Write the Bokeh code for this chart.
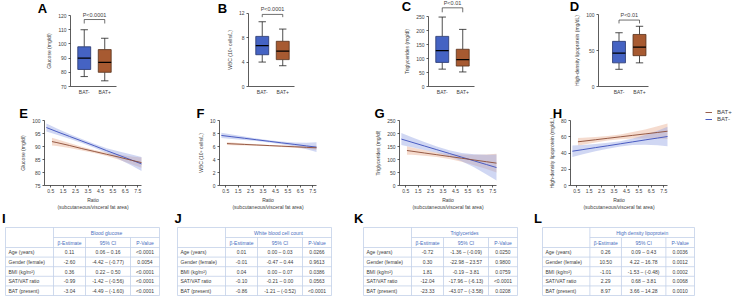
from bokeh.plotting import figure
from bokeh.layouts import column, row
from bokeh.models import Range1d, FixedTicker, Label, Legend, LegendItem
from bokeh.embed import file_html
from bokeh.resources import INLINE
from bokeh.core.properties import value

FONT = "Liberation Sans"
TXT = "#404040"
AX = "#333333"
BLUE, BLUE_EDGE = "#4563c3", "#25336b"
BROWN, BROWN_EDGE = "#a75a31", "#55301b"
LINE_BLUE, LINE_BROWN = "#4a5cc2", "#8c4c36"
BAND_BLUE, BAND_BROWN = "#97a6e4", "#e9b093"
TBL_LINE, HEAD_TXT = "#c3d0e8", "#4a6fc0"

# ---------------- data: box plots ----------------
groups = ["BAT-", "BAT+"]
glucose_low = [77, 74]; glucose_q1 = [82, 80]; glucose_med = [90, 87]; glucose_q3 = [98, 96]; glucose_high = [110, 104]
wbc_low = [4.0, 3.4]; wbc_q1 = [5.2, 4.4]; wbc_med = [6.7, 5.8]; wbc_q3 = [8.2, 7.4]; wbc_high = [10.6, 9.4]
tg_low = [62, 52]; tg_q1 = [86, 73]; tg_med = [128, 96]; tg_q3 = [179, 133]; tg_high = [248, 204]
hdl_low = [24, 33]; hdl_q1 = [33, 43]; hdl_med = [46.5, 55]; hdl_q3 = [63, 72.6]; hdl_high = [75, 84]
p_texts = ["P<0.0001", "P<0.0001", "P<0.01", "P<0.01"]

glucose_ticks = [70, 80, 90, 100, 110, 120]
wbc_ticks = [0, 4, 8, 12]
tg_ticks = [0, 50, 100, 150, 200, 250]
hdl_ticks = [0, 50, 100]

# ---------------- data: regression lines ----------------
ratio_ticks = [0.5, 1.5, 2.5, 3.5, 4.5, 5.5, 6.5, 7.5]
x_neg = [0.15, 1, 2, 3, 4, 5, 6, 7, 7.8]
x_pos = [0.6, 1, 2, 3, 4, 5, 6, 7, 7.8]

e_neg = [97.3, 95.7, 93.9, 92.1, 90.3, 88.4, 86.6, 84.8, 83.3]
e_neg_lo = [95.8, 94.5, 92.95, 91.3, 89.55, 87.5, 85.1, 82.7, 80.6]
e_neg_hi = [98.8, 96.9, 94.85, 92.9, 91.05, 89.3, 88.1, 86.9, 86.0]
e_pos = [91.9, 91.5, 90.4, 89.2, 88.1, 87.0, 85.9, 84.7, 83.8]
e_pos_lo = [90.4, 90.2, 89.45, 88.5, 87.5, 86.3, 84.9, 83.2, 81.8]
e_pos_hi = [93.4, 92.8, 91.35, 89.9, 88.7, 87.7, 86.9, 86.2, 85.8]

f_neg = [7.70, 7.50, 7.27, 7.03, 6.80, 6.56, 6.33, 6.09, 5.90]
f_neg_lo = [7.30, 7.17, 7.01, 6.83, 6.62, 6.36, 6.03, 5.59, 5.15]
f_neg_hi = [8.10, 7.83, 7.53, 7.23, 6.98, 6.76, 6.63, 6.59, 6.65]
f_pos = [6.45, 6.41, 6.32, 6.23, 6.14, 6.05, 5.96, 5.87, 5.80]
f_pos_lo = [6.23, 6.21, 6.16, 6.11, 6.04, 5.93, 5.80, 5.65, 5.50]
f_pos_hi = [6.67, 6.61, 6.48, 6.35, 6.24, 6.17, 6.12, 6.09, 6.10]

g_neg = [178.5, 166.3, 152.0, 137.7, 123.4, 109.1, 94.8, 80.5, 69.0]
g_neg_lo = [155.5, 147.3, 137.0, 125.7, 111.4, 93.1, 69.8, 42.5, 19.0]
g_neg_hi = [201.5, 185.3, 167.0, 149.7, 135.4, 125.1, 119.8, 118.5, 119.0]
g_pos = [134.6, 131.9, 125.1, 118.4, 111.6, 104.9, 98.1, 91.4, 86.0]
g_pos_lo = [118.6, 117.9, 114.1, 109.4, 101.6, 90.9, 78.1, 63.4, 50.0]
g_pos_hi = [150.6, 145.9, 136.1, 127.4, 121.6, 118.9, 118.1, 119.4, 122.0]

h_neg = [42.2, 44.2, 46.6, 48.9, 51.3, 53.7, 56.1, 58.4, 60.3]
h_neg_lo = [35.2, 38.4, 42.1, 45.3, 48.0, 49.7, 50.1, 49.4, 48.3]
h_neg_hi = [49.2, 50.0, 51.1, 52.5, 54.6, 57.7, 62.1, 67.4, 72.3]
h_pos = [53.8, 54.5, 56.3, 58.1, 59.9, 61.7, 63.5, 65.3, 66.8]
h_pos_lo = [49.1, 50.3, 53.0, 55.3, 56.9, 57.7, 58.0, 57.8, 57.3]
h_pos_hi = [58.5, 58.7, 59.6, 60.9, 62.9, 65.7, 69.0, 72.8, 76.3]

glucose_line_ticks = [75, 80, 85, 90, 95, 100]
wbc_line_ticks = [0, 2, 4, 6, 8, 10]
tg_line_ticks = [0, 50, 100, 150, 200, 250]
hdl_line_ticks = [0, 20, 40, 60, 80]

# ---------------- data: tables ----------------
row_labels = ["Age (years)", "Gender (female)", "BMI (kg/m\u00b2)", "SAT/VAT ratio", "BAT (present)"]
col_heads = ["\u03b2-Estimate", "95% CI", "P-Value"]
table_titles = ["Blood glucose", "White blood cell count", "Triglycerides", "High density lipoprotein"]
glucose_est = ["0.11", "-2.60", "0.36", "-0.99", "-3.04"]
glucose_ci = ["0.06 \u2013 0.16", "-4.42 \u2013 (-0.77)", "0.22 \u2013 0.50", "-1.42 \u2013 (-0.56)", "-4.49 \u2013 (-1.60)"]
glucose_p = ["<0.0001", "0.0054", "<0.0001", "<0.0001", "<0.0001"]
wbc_est = ["0.01", "-0.01", "0.04", "-0.10", "-0.86"]
wbc_ci = ["0.00 \u2013 0.03", "-0.47 \u2013 0.44", "0.00 \u2013 0.07", "-0.21 \u2013 0.00", "-1.21 \u2013 (-0.52)"]
wbc_p = ["0.0266", "0.9613", "0.0386", "0.0563", "<0.0001"]
tg_est = ["-0.72", "0.30", "1.81", "-12.04", "-23.33"]
tg_ci = ["-1.36 \u2013 (-0.09)", "-22.98 \u2013 23.57", "-0.19 \u2013 3.81", "-17.96 \u2013 (-6.13)", "-43.07 \u2013 (-3.58)"]
tg_p = ["0.0250", "0.9800", "0.0759", "<0.0001", "0.0208"]
hdl_est = ["0.26", "10.50", "-1.01", "2.29", "8.97"]
hdl_ci = ["0.09 \u2013 0.43", "4.22 \u2013 16.78", "-1.53 \u2013 (-0.48)", "0.68 \u2013 3.81", "3.66 \u2013 14.28"]
hdl_p = ["0.0036", "0.0012", "0.0002", "0.0068", "0.0010"]


def style_axis(ax):
    ax.axis_line_color = AX
    ax.axis_line_width = 0.8
    ax.major_tick_line_color = AX
    ax.major_tick_line_width = 0.8
    ax.major_tick_in = 0
    ax.major_tick_out = 2
    ax.minor_tick_line_color = None
    ax.major_label_text_font = FONT
    ax.major_label_text_font_size = "5px"
    ax.major_label_text_color = TXT
    ax.axis_label_text_font = FONT
    ax.axis_label_text_font_size = "5px"
    ax.axis_label_text_font_style = "normal"
    ax.axis_label_text_color = TXT
    ax.major_label_standoff = 2
    ax.axis_label_standoff = 3


def base_fig(w, h, xr, yr):
    p = figure(width=w, height=h, x_range=xr, y_range=yr, output_backend="svg",
               toolbar_location=None, min_border=0)
    p.outline_line_color = None
    p.xgrid.visible = False
    p.ygrid.visible = False
    p.background_fill_color = "white"
    p.border_fill_color = "white"
    return p


def add_letter(p, letter, cx, cy, h):
    p.add_layout(Label(x=cx, y=h - cy, x_units="screen", y_units="screen",
                       text=letter, text_font=FONT, text_font_size="13px",
                       text_font_style="bold", text_color="black",
                       text_align="center", text_baseline="middle"))


def box_panel(letter, lpos, low, q1, med, q3, high, ylabel, yticks, ytop, ptext,
              br_top, br_leg, cell_w, left, frame_w, xstart):
    H = 104
    ppu_x = 20.5
    ppu_y = 84.0 / (ytop - yticks[0])
    xr = Range1d(xstart - left / ppu_x, xstart + (cell_w - left) / ppu_x)
    yr = Range1d(yticks[0] - 18 / ppu_y, ytop + 2 / ppu_y)
    p = base_fig(cell_w, H, xr, yr)
    xs = [i + 0.5 for i in range(len(groups))]
    bw, cw = 0.63, 0.36
    wk = dict(line_color="#222222", line_width=0.8)
    p.segment(x0=xs, y0=q3, x1=xs, y1=high, **wk)
    p.segment(x0=xs, y0=low, x1=xs, y1=q1, **wk)
    p.segment(x0=[x - cw / 2 for x in xs], y0=high, x1=[x + cw / 2 for x in xs], y1=high, **wk)
    p.segment(x0=[x - cw / 2 for x in xs], y0=low, x1=[x + cw / 2 for x in xs], y1=low, **wk)
    p.vbar(x=xs, width=bw, bottom=q1, top=q3, fill_color=[BLUE, BROWN],
           line_color=[BLUE_EDGE, BROWN_EDGE], line_width=0.8)
    p.segment(x0=[x - bw / 2 for x in xs], y0=med, x1=[x + bw / 2 for x in xs], y1=med,
              line_color="black", line_width=1.2)
    p.line(x=[xs[0], xs[0], xs[1], xs[1]], y=[br_leg, br_top, br_top, br_leg],
           line_color="#333333", line_width=0.7)
    p.add_layout(Label(x=(xs[0] + xs[1]) / 2, y=br_top, y_offset=5, text=ptext,
                       text_font=FONT, text_font_size="5.5px", text_color=TXT,
                       text_align="center", text_baseline="middle"))
    for ax in p.xaxis + p.yaxis:
        style_axis(ax)
    p.xaxis.ticker = FixedTicker(ticks=xs)
    p.xaxis.major_label_overrides = {x: g for x, g in zip(xs, groups)}
    p.xaxis.major_tick_out = 0
    p.xaxis.fixed_location = yticks[0]
    p.xaxis.bounds = (xstart, xstart + frame_w / ppu_x)
    p.yaxis.ticker = FixedTicker(ticks=yticks)
    p.yaxis.bounds = (yticks[0], yticks[-1])
    p.yaxis.fixed_location = xstart
    p.yaxis.axis_label = ylabel
    add_letter(p, letter, lpos[0], lpos[1], H)
    return p


def line_panel(letter, lpos, ylabel, yticks, neg, neg_lo, neg_hi, pos, pos_lo, pos_hi,
               cell_w, left, legend=False):
    H, fw, top, fh = 107, 97, 16, 65
    x0, x1 = 0.0, 7.8
    y0, y1 = yticks[0], yticks[-1]
    ppu_x = fw / (x1 - x0)
    ppu_y = fh / (y1 - y0)
    xr = Range1d(x0 - left / ppu_x, x1 + (cell_w - left - fw) / ppu_x)
    yr = Range1d(y0 - (H - top - fh) / ppu_y, y1 + top / ppu_y)
    p = base_fig(cell_w, H, xr, yr)
    p.varea(x=x_pos, y1=pos_lo, y2=pos_hi, fill_color=BAND_BROWN, fill_alpha=0.45)
    p.varea(x=x_neg, y1=neg_lo, y2=neg_hi, fill_color=BAND_BLUE, fill_alpha=0.45)
    rb = p.line(x=x_neg, y=neg, line_color=LINE_BLUE, line_width=1.0)
    ro = p.line(x=x_pos, y=pos, line_color=LINE_BROWN, line_width=1.0, line_alpha=0.9)
    for ax in p.xaxis + p.yaxis:
        style_axis(ax)
    p.xaxis.ticker = FixedTicker(ticks=ratio_ticks)
    p.xaxis.fixed_location = y0
    p.xaxis.bounds = (x0, x1)
    p.yaxis.ticker = FixedTicker(ticks=yticks)
    p.yaxis.fixed_location = x0
    p.yaxis.bounds = (y0, y1)
    p.xaxis.axis_label = "Ratio\n(subcutaneous/visceral fat area)"
    p.xaxis.axis_label_standoff = 1
    p.xaxis.major_label_standoff = 1
    p.yaxis.axis_label = ylabel
    add_letter(p, letter, lpos[0], lpos[1], H)
    if legend:
        lg = Legend(items=[LegendItem(label="BAT+", renderers=[ro]),
                           LegendItem(label="BAT-", renderers=[rb])],
                    location=(165, H - 18), orientation="vertical")
        lg.glyph_width = 7
        lg.glyph_height = 6
        lg.label_height = 6
        lg.label_standoff = 5
        lg.spacing = 1
        lg.padding = 0
        lg.margin = 0
        lg.border_line_color = None
        lg.background_fill_alpha = 0
        lg.label_text_font = FONT
        lg.label_text_font_size = "6px"
        lg.label_text_color = TXT
        p.add_layout(lg, "center")
    return p


def table_panel(letter, lpos, title, est, ci, pv, cell_w, tx, tw):
    h = 85
    p = figure(width=cell_w, height=h, x_range=Range1d(0, cell_w), y_range=Range1d(h, 0),
               x_axis_type=None, y_axis_type=None, output_backend="svg",
               toolbar_location=None, min_border=0)
    p.outline_line_color = None
    p.grid.visible = False
    ty = 16
    fr = [0, 48 / 154, 80 / 154, 125 / 154, 1]
    xs = [tx + f * tw for f in fr]
    ys = [ty + v for v in [0, 10, 20, 29.6, 39.2, 48.8, 58.4, 68]]
    x0, y0, x1, y1 = [], [], [], []

    def seg(a, b, c, d):
        x0.append(a); y0.append(b); x1.append(c); y1.append(d)
    seg(xs[0], ys[0], xs[4], ys[0])
    seg(xs[0], ys[-1], xs[4], ys[-1])
    seg(xs[0], ys[0], xs[0], ys[-1])
    seg(xs[4], ys[0], xs[4], ys[-1])
    seg(xs[1], ys[0], xs[1], ys[-1])
    seg(xs[2], ys[1], xs[2], ys[-1])
    seg(xs[3], ys[1], xs[3], ys[-1])
    seg(xs[1], ys[1], xs[4], ys[1])
    for yy in ys[2:-1]:
        seg(xs[0], yy, xs[4], yy)
    p.segment(x0=x0, y0=y0, x1=x1, y1=y1, line_color=TBL_LINE, line_width=0.8)
    common = dict(text_font=value(FONT), text_font_size="5px", text_baseline="middle")
    p.text(x=[(xs[1] + xs[4]) / 2], y=[(ys[0] + ys[1]) / 2], text=[title],
           text_align="center", text_color=HEAD_TXT, **common)
    p.text(x=[(xs[i] + xs[i + 1]) / 2 for i in range(1, 4)], y=[(ys[1] + ys[2]) / 2] * 3,
           text=col_heads, text_align="center", text_color=HEAD_TXT, **common)
    rc = [(ys[i] + ys[i + 1]) / 2 for i in range(2, 7)]
    p.text(x=[xs[0] + 3] * 5, y=rc, text=row_labels, text_align="left", text_color=TXT, **common)
    for ci_, vals in enumerate([est, ci, pv]):
        cx = (xs[ci_ + 1] + xs[ci_ + 2]) / 2
        p.text(x=[cx] * 5, y=rc, text=vals, text_align="center", text_color=TXT, **common)
    p.text(x=[lpos[0]], y=[lpos[1]], text=[letter], text_font=value(FONT),
           text_font_size="13px", text_font_style="bold", text_color="black",
           text_align="left", text_baseline="middle")
    return p


pA = box_panel("A", (42, 7.5), glucose_low, glucose_q1, glucose_med, glucose_q3, glucose_high,
               "Glucose (mg/dl)", glucose_ticks, 129.2, p_texts[0], 117.2, 114.4, 178, 70, 46, -0.17)
pB = box_panel("B", (44, 7.5), wbc_low, wbc_q1, wbc_med, wbc_q3, wbc_high,
               "WBC (10\u2079 cells/L)", wbc_ticks, 13.75, p_texts[1], 11.8, 11.35, 188, 70, 46, -0.17)
pC = box_panel("C", (40, 6), tg_low, tg_q1, tg_med, tg_q3, tg_high,
               "Triglycerides (mg/dl)", tg_ticks, 300, p_texts[2], 281, 265, 179, 62, 46, -0.17)
pD = box_panel("D", (29, 6), hdl_low, hdl_q1, hdl_med, hdl_q3, hdl_high,
               "High-density lipoprotein (mg/dL)", hdl_ticks, 117.2, p_texts[3], 92.7, 88, 191, 53, 50, -0.5)

pE = line_panel("E", (23, 9), "Glucose (mg/dl)", glucose_line_ticks,
                e_neg, e_neg_lo, e_neg_hi, e_pos, e_pos_lo, e_pos_hi, 178, 44)
pF = line_panel("F", (22, 9), "WBC (10\u2079 cells/L)", wbc_line_ticks,
                f_neg, f_neg_lo, f_neg_hi, f_pos, f_pos_lo, f_pos_hi, 180, 41)
pG = line_panel("G", (21, 8.5), "Triglycerides (mg/dl)", tg_line_ticks,
                g_neg, g_neg_lo, g_neg_hi, g_pos, g_pos_lo, g_pos_hi, 182, 41)
pH = line_panel("H", (17, 9), "High-density lipoprotein (mg/dL)", hdl_line_ticks,
                h_neg, h_neg_lo, h_neg_hi, h_pos, h_pos_lo, h_pos_hi, 196, 30, legend=True)

pI = table_panel("I", (1.5, 7), table_titles[0], glucose_est, glucose_ci, glucose_p, 172, 5, 154)
pJ = table_panel("J", (2, 7), table_titles[1], wbc_est, wbc_ci, wbc_p, 180, 5, 154)
pK = table_panel("K", (1.5, 6.5), table_titles[2], tg_est, tg_ci, tg_p, 180, 11, 154)
pL = table_panel("L", (1.5, 6.5), table_titles[3], hdl_est, hdl_ci, hdl_p, 204, 10, 152)

layout = column(row(pA, pB, pC, pD), row(pE, pF, pG, pH), row(pI, pJ, pK, pL))
open("out.html", "w").write(file_html(layout, INLINE))
